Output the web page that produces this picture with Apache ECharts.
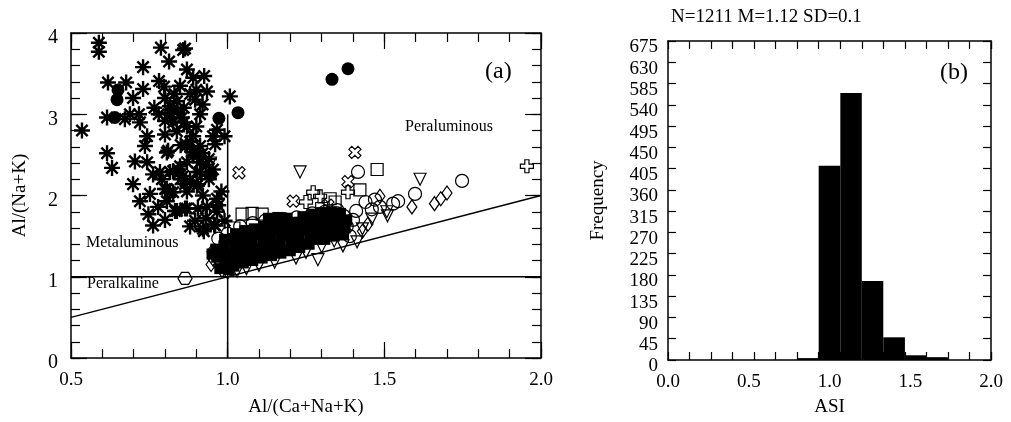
<!DOCTYPE html>
<html>
<head>
<meta charset="utf-8">
<script src="https://cdn.jsdelivr.net/npm/echarts@6/dist/echarts.min.js"></script>
<style>
  html, body { margin: 0; padding: 0; background: #fff; }
  #chart { width: 1011px; height: 422px; }
</style>
</head>
<body>
<div id="chart"></div>
<script>
// ---------- (a) A/NK vs A/CNK ----------
const asterisks = [
  [0.589,3.88],[0.589,3.77],[0.535,2.80],[0.618,3.39],[0.676,3.39],[0.698,3.20],[0.730,3.58],[0.730,3.31],
  [0.787,3.82],[0.813,3.65],[0.781,3.41],[0.797,3.34],[0.848,3.35],[0.858,3.79],[0.864,3.81],[0.870,3.55],
  [0.890,3.45],[0.925,3.47],[0.900,3.30],[0.896,3.18],[0.934,3.28],[1.007,3.22],[0.766,3.08],[0.800,3.20],
  [0.816,3.10],[0.838,3.16],[0.912,3.00],[0.615,2.96],[0.672,2.94],[0.688,3.00],[0.717,3.00],[0.720,2.90],
  [0.816,3.02],[0.826,2.90],[0.838,2.79],[0.800,2.75],[0.854,2.96],[0.870,2.85],[0.743,2.73],[0.736,2.61],
  [0.810,2.55],[0.743,2.41],[0.704,2.42],[0.615,2.52],[0.631,2.34],[0.890,2.73],[0.912,2.61],[0.953,2.73],
  [0.966,2.81],[0.990,2.73],[0.960,2.63],[0.886,2.54],[0.902,2.48],[0.912,2.41],[0.870,2.41],[0.848,2.36],
  [0.826,2.30],[0.784,2.29],[0.762,2.26],[0.912,2.29],[0.953,2.32],[0.698,2.14],[0.752,2.02],[0.720,1.93],
  [0.778,1.86],[0.816,2.04],[0.806,2.08],[0.864,2.14],[0.905,2.14],[0.921,2.00],[0.966,1.96],[0.934,1.86],
  [0.870,1.84],[0.838,1.81],[0.747,1.77],[0.966,1.80],[0.806,2.53],[0.890,2.53],[0.816,2.29],[0.842,2.32],
  [0.858,2.24],[0.902,2.29],[0.800,2.08],[0.826,2.04],[0.870,2.05],[0.902,2.12],[0.832,1.81],[0.864,1.84],
  [0.905,1.84],[0.921,1.59],[0.960,1.63],[0.990,1.69],[0.896,1.69],[0.806,1.93],[0.762,1.63],[0.924,1.56],
  [0.957,1.64],[0.860,2.90],[0.880,2.66],[0.870,2.62],[0.900,2.85],[0.920,2.52],[0.940,2.45],[0.930,2.38],
  [0.850,2.62],[0.840,3.05],[0.820,3.00],[0.860,3.08],[0.780,3.00],[0.800,2.92],[0.920,3.12],[0.880,3.25],
  [0.830,3.25],[0.850,2.20],[0.880,2.18],[0.940,2.20],[0.790,2.20],[0.930,1.72],[0.880,1.62],[0.800,1.70],
  [0.980,2.05],[0.970,1.88]
];
const filledCircles = [
  [0.650,3.30],[0.647,3.18],[0.640,2.96],[0.972,2.95],[1.033,3.02],[0.947,2.26],[1.333,3.43],[1.384,3.56]
];
const filledSquares = [
  [0.950,1.28],[0.965,1.24],[0.962,1.34],[0.975,1.10],[1.005,1.09],
  [0.990,1.15],[0.992,1.27],[0.988,1.38],[0.990,1.46],
  [1.020,1.13],[1.018,1.25],[1.022,1.36],[1.020,1.47],[1.025,1.53],
  [1.050,1.17],[1.048,1.28],[1.052,1.39],[1.050,1.50],[1.055,1.57],
  [1.080,1.20],[1.082,1.31],[1.078,1.42],[1.080,1.52],[1.085,1.59],
  [1.110,1.23],[1.108,1.34],[1.112,1.45],[1.110,1.55],[1.115,1.62],
  [1.140,1.26],[1.142,1.37],[1.138,1.48],[1.140,1.58],[1.145,1.65],
  [1.170,1.29],[1.168,1.40],[1.172,1.51],[1.170,1.60],[1.175,1.66],
  [1.200,1.32],[1.202,1.43],[1.198,1.54],[1.200,1.62],[1.205,1.67],
  [1.230,1.36],[1.228,1.47],[1.232,1.58],[1.230,1.67],[1.240,1.74],
  [1.260,1.40],[1.262,1.51],[1.258,1.62],[1.260,1.71],[1.270,1.77],
  [1.290,1.46],[1.288,1.56],[1.292,1.67],[1.290,1.75],[1.300,1.79],
  [1.310,1.46],[1.320,1.52],[1.318,1.62],[1.322,1.72],[1.330,1.80],
  [1.340,1.50],[1.350,1.58],[1.352,1.68],[1.360,1.78],
  [1.370,1.52],[1.375,1.60],[1.380,1.70],
  [1.130,1.72],[1.160,1.73],[1.190,1.72]
];
const openCircles = [
  [1.416,2.29],[1.748,2.18],[1.544,1.93],[1.598,2.02],[1.528,1.90],[1.486,1.86],[1.460,1.83],[1.410,1.81],
  [0.970,1.47],[1.000,1.53],[1.040,1.62],[1.080,1.66],[1.120,1.69],[1.180,1.71],[1.220,1.73],[1.270,1.78],
  [1.310,1.80],[1.350,1.82],[1.370,1.75],[1.400,1.70],[1.380,1.62],[1.360,1.55],[1.390,1.50],[1.350,1.78],
  [1.440,1.92],[1.470,1.95]
];
const openSquares = [
  [1.046,1.77],[1.078,1.78],[1.110,1.77],[1.477,2.32],[1.327,1.96],[1.343,1.92],[1.422,2.07],[1.020,1.60],
  [1.150,1.70],[1.300,1.84]
];
const openDiamonds = [
  [0.950,1.31],[0.953,1.22],[0.970,1.14],[0.982,1.08],[0.947,1.15],[1.000,1.06],[1.430,1.56],[1.448,1.65],
  [1.588,1.86],[1.660,1.90],[1.680,1.96],[1.700,2.03],[1.486,1.99]
];
const openTrianglesDown = [
  [1.231,2.29],[1.614,2.20],[1.510,1.75],[1.460,1.71],[1.430,1.59],[1.288,1.21],[1.218,1.23],[1.413,1.43],
  [1.368,1.38],[1.508,1.80],[0.945,2.40],[1.030,1.07],[1.060,1.10],[1.100,1.14],[1.150,1.18],[1.250,1.30],
  [1.300,1.37],[1.340,1.44]
];
const openXMarks = [
  [1.036,2.28],[1.406,2.53],[1.384,2.17],[1.209,1.93],[1.320,1.88]
];
const openPlus = [
  [1.273,2.04],[1.295,1.99],[1.384,2.04],[1.955,2.36],[1.250,1.92]
];
const openHexagons = [
  [0.864,0.98]
];
// boundary lines of the classification fields
const lineACNK1 = [[1.0,0.0],[1.0,3.0]];
const lineANK1 = [[0.5,1.0],[2.0,1.0]];
const lineEqual = [[0.5,0.5],[2.0,2.0]];

// ---------- (b) ASI histogram ----------
const binEdges = [0.800, 0.933, 1.067, 1.200, 1.333, 1.467, 1.600, 1.733];
const binCounts = [4, 411, 565, 167, 48, 10, 6];
const histTitle = 'N=1211 M=1.12 SD=0.1';

const FONT = '"Liberation Serif", "Times New Roman", serif';
const BLACK = '#000';

const asteriskPath = 'path://M-10 -1.5L10 -1.5L10 1.5L-10 1.5ZM1.5 -10L1.5 10L-1.5 10L-1.5 -10ZM-6.01 -8.13L8.13 6.01L6.01 8.13L-8.13 -6.01ZM8.13 -6.01L-6.01 8.13L-8.13 6.01L6.01 -8.13Z';
const plusPath = 'path://M-0.32 -1L0.32 -1L0.32 -0.32L1 -0.32L1 0.32L0.32 0.32L0.32 1L-0.32 1L-0.32 0.32L-1 0.32L-1 -0.32L-0.32 -0.32Z';
const hexPath = 'path://M-1 0L-0.5 -0.866L0.5 -0.866L1 0L0.5 0.866L-0.5 0.866Z';

const openStyle = { color: 'rgba(0,0,0,0)', borderColor: BLACK, borderWidth: 1.2, opacity: 1 };
const solidStyle = { color: BLACK, opacity: 1 };

function scatter(name, data, symbol, size, style, extra) {
  return Object.assign({
    name, type: 'scatter', xAxisIndex: 0, yAxisIndex: 0, data,
    symbol, symbolSize: size, symbolKeepAspect: true, itemStyle: style,
    silent: true, z: 3
  }, extra || {});
}
function boundary(name, data) {
  return {
    name, type: 'line', xAxisIndex: 0, yAxisIndex: 0, data, symbol: 'none',
    lineStyle: { color: BLACK, width: 1.5 }, silent: true, z: 2
  };
}

const TICK_LINE = { color: BLACK, width: 1.2 };
const edgeLine = { show: true, onZero: false, lineStyle: { color: BLACK, width: 1.5 } };
const noLine = { show: false, onZero: false };
const labelStyle = { color: BLACK, fontFamily: FONT, fontSize: 19 };
const nameStyle = { color: BLACK, fontFamily: FONT, fontSize: 19 };

// one axis per tick set: long ticks, short ticks, and mirrored frame sides
function tickAxis(grid, position, min, max, interval, len, withLine) {
  return {
    gridIndex: grid, type: 'value', position, min, max, interval,
    axisLine: withLine ? edgeLine : noLine,
    axisTick: { show: true, inside: true, length: len, lineStyle: TICK_LINE },
    splitLine: { show: false }, axisLabel: { show: false }
  };
}

const chart = echarts.init(document.getElementById('chart'), null, { renderer: 'canvas' });
chart.setOption({
  animation: false,
  backgroundColor: '#fff',
  title: {
    text: histTitle, left: 666, top: 3,
    textStyle: { color: BLACK, fontFamily: FONT, fontSize: 19, fontWeight: 'normal' }
  },
  grid: [
    { left: 71, top: 33, width: 470, height: 327 },
    { left: 668, top: 41, width: 323, height: 319 }
  ],
  xAxis: [
    { gridIndex: 0, type: 'value', position: 'bottom', min: 0.5, max: 2.0, interval: 0.5,
      axisLine: edgeLine,
      axisTick: { show: true, inside: true, length: 16, lineStyle: TICK_LINE },
      splitLine: { show: false },
      axisLabel: Object.assign({ margin: 13, formatter: v => v.toFixed(1) }, labelStyle),
      name: 'Al/(Ca+Na+K)', nameLocation: 'middle', nameGap: 40, nameTextStyle: nameStyle },
    tickAxis(0, 'bottom', 0.5, 2.0, 0.1, 9, false),
    tickAxis(0, 'top', 0.5, 2.0, 0.5, 16, true),
    tickAxis(0, 'top', 0.5, 2.0, 0.1, 9, false),
    { gridIndex: 1, type: 'value', position: 'bottom', min: 0, max: 2.0, interval: 0.5,
      axisLine: edgeLine, axisTick: { show: false }, splitLine: { show: false },
      axisLabel: Object.assign({ margin: 13, formatter: v => v.toFixed(1) }, labelStyle),
      name: 'ASI', nameLocation: 'middle', nameGap: 38, nameTextStyle: nameStyle },
    tickAxis(1, 'bottom', 0, 2.0, 2 / 15, 8, false),
    tickAxis(1, 'top', 0, 2.0, 2 / 15, 8, true)
  ],
  yAxis: [
    { gridIndex: 0, type: 'value', position: 'left', min: 0, max: 4, interval: 1,
      axisLine: edgeLine,
      axisTick: { show: true, inside: true, length: 16, lineStyle: TICK_LINE },
      splitLine: { show: false },
      axisLabel: Object.assign({ margin: 13, verticalAlign: 'top', lineHeight: 10 }, labelStyle, { fontSize: 20 }),
      name: 'Al/(Na+K)', nameLocation: 'middle', nameGap: 41, nameTextStyle: nameStyle },
    tickAxis(0, 'left', 0, 4, 0.2, 9, false),
    tickAxis(0, 'right', 0, 4, 1, 16, true),
    tickAxis(0, 'right', 0, 4, 0.2, 9, false),
    { gridIndex: 1, type: 'value', position: 'left', min: 0, max: 675, interval: 45,
      axisLine: edgeLine,
      axisTick: { show: true, inside: true, length: 8, lineStyle: TICK_LINE },
      splitLine: { show: false },
      axisLabel: Object.assign({ margin: 10, verticalAlign: 'top', lineHeight: 13 }, labelStyle),
      name: 'Frequency', nameLocation: 'middle', nameGap: 60, nameTextStyle: nameStyle },
    tickAxis(1, 'right', 0, 675, 45, 8, true)
  ],
  graphic: [
    { type: 'text', left: 485, top: 60, style: { text: '(a)', fill: BLACK, font: '24px ' + FONT } },
    { type: 'text', left: 405, top: 119, style: { text: 'Peraluminous', fill: BLACK, font: '16px ' + FONT } },
    { type: 'text', left: 86, top: 235, style: { text: 'Metaluminous', fill: BLACK, font: '16px ' + FONT } },
    { type: 'text', left: 87, top: 276, style: { text: 'Peralkaline', fill: BLACK, font: '16px ' + FONT } },
    { type: 'text', left: 940, top: 61, style: { text: '(b)', fill: BLACK, font: '24px ' + FONT } }
  ],
  series: [
    boundary('A/CNK = 1', lineACNK1),
    boundary('A/NK = 1', lineANK1),
    boundary('A/NK = A/CNK', lineEqual),
    scatter('asterisk', asterisks, asteriskPath, 16, solidStyle),
    scatter('filled circle', filledCircles, 'circle', 13, solidStyle),
    scatter('filled square', filledSquares, 'rect', 11, solidStyle),
    scatter('open circle', openCircles, 'circle', 13, openStyle),
    scatter('open square', openSquares, 'rect', 12, openStyle),
    scatter('open diamond', openDiamonds, 'diamond', [10, 14], openStyle, { symbolKeepAspect: false }),
    scatter('open triangle', openTrianglesDown, 'triangle', 12, openStyle, { symbolRotate: 180 }),
    scatter('open x', openXMarks, plusPath, 13, openStyle, { symbolRotate: 45 }),
    scatter('open plus', openPlus, plusPath, 13, openStyle),
    scatter('open hexagon', openHexagons, hexPath, [14, 12], openStyle, { symbolKeepAspect: false }),
    {
      name: 'ASI', type: 'custom', xAxisIndex: 4, yAxisIndex: 4, silent: true,
      data: binCounts.map((c, i) => [binEdges[i], binEdges[i + 1], c]),
      encode: { x: [0, 1], y: 2 },
      renderItem: function (params, api) {
        const top = api.coord([api.value(0), api.value(2)]);
        const base = api.coord([api.value(1), 0]);
        return {
          type: 'rect',
          shape: { x: top[0], y: top[1], width: base[0] - top[0], height: base[1] - top[1] },
          style: { fill: BLACK }
        };
      }
    }
  ]
});
</script>
</body>
</html>
